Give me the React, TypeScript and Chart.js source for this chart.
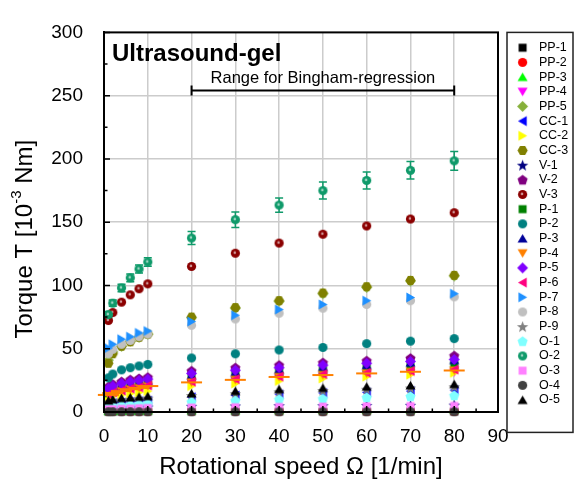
import React, { useEffect, useRef } from 'react';
import { Chart, registerables } from 'chart.js';

Chart.register(...registerables);

const FONT = "Arial, 'Liberation Sans', Helvetica, sans-serif";

// ---------- data ----------
const speeds = [1, 2, 4, 6, 8, 10, 20, 30, 40, 50, 60, 70, 80];

const pp1 = [0.3, 0.3, 0.3, 0.3, 0.3, 0.3, 0.3, 0.3, 0.3, 0.3, 0.3, 0.3, 0.3];
const pp2 = [0.5, 0.5, 0.5, 0.5, 0.5, 0.5, 0.5, 0.5, 0.5, 0.5, 0.5, 0.5, 0.5];
const pp3 = [1, 1, 1.2, 1.2, 1.3, 1.4, 1.5, 1.6, 1.7, 1.8, 1.9, 2, 2];
const pp4 = [12.5, 14, 15.5, 17, 18, 19.5, 22.5, 24.5, 26.5, 28, 29.5, 30.5, 31.5];
const pp5 = [41, 47.5, 52, 56, 59, 61.5, 74.5, 82, 87.5, 93.5, 98.5, 103.5, 107.5];
const cc1 = [6, 7, 7.5, 8, 8.5, 9, 11.7, 13, 14, 15, 15.5, 16.5, 17.3];
const cc2 = [11.5, 12.5, 13.5, 14.5, 15.5, 16.5, 20.5, 22.5, 24.5, 26.5, 28, 29.5, 31];
const cc3 = [38.5, 46, 52, 55.5, 59, 61.5, 75, 82.5, 88, 94, 99, 104, 108];
const v1 = [2.5, 3, 3.5, 3.5, 4, 4, 4.5, 4.8, 5, 5, 5.2, 5.3, 5.5];
const v2 = [20, 22, 24, 25.5, 26.5, 27.5, 32.5, 35, 37, 39, 40.5, 42.5, 44.5];
const v3 = [72.3, 78.6, 86.8, 92.6, 97.4, 101.3, 115, 125.5, 133.5, 140.5, 147, 152.5, 157.5];
const p1 = [15, 17, 19, 20, 21, 22, 27, 29.5, 31.5, 33, 34.5, 36, 37.3];
const p2 = [27, 30, 33.3, 35, 36.4, 37.6, 42.7, 46, 49, 51, 54, 56, 58];
const p3 = [17, 19, 21, 22.5, 23.5, 24.5, 29, 31.5, 33.5, 35.5, 37, 39, 41];
const p4 = [13.5, 15, 16.5, 18, 19, 20.5, 23.4, 25.4, 27.7, 29.2, 30.5, 31.8, 32.8];
const p5 = [18.5, 20.5, 22.5, 24, 25, 26, 30.5, 33, 35, 37, 38.5, 40, 41.5];
const p6 = [14, 15.5, 17, 18.5, 19.5, 21, 24, 26, 28, 30, 31, 32.5, 33.5];
const p7 = [50.5, 53.5, 57.5, 59.5, 62.5, 64, 71.5, 76.5, 81, 85, 88, 90.5, 93.5];
const p8 = [46, 49.5, 53.5, 56.5, 59.5, 61.5, 68.5, 73.5, 78, 82, 85, 88, 91];
const p9 = [8, 9, 9.5, 10, 10.5, 11, 13, 14.5, 16, 17, 18, 19, 20];
const o1 = [4, 4.5, 5, 5.5, 6, 6.5, 8, 9, 10, 10.5, 11.5, 12.3, 13];
const o2 = [77, 86, 98, 106, 113, 118.5, 137.5, 152, 163.5, 175, 183, 191, 198.5];
const o3 = [2, 2.2, 2.5, 2.7, 3, 3.2, 3.5, 3.8, 4, 4.2, 4.4, 4.6, 4.8];
const o4 = [0.2, 0.2, 0.2, 0.2, 0.2, 0.2, 0.2, 0.2, 0.2, 0.2, 0.2, 0.2, 0.2];
const o5 = [9, 10, 11, 11.5, 12, 12.5, 14.7, 16.5, 18, 19, 20, 21, 22];

// error bars
const o2Err = [2.5, 2.5, 3, 3, 3.2, 3.4, 5.1, 6.1, 5.7, 6.7, 6.7, 6.9, 7.4];
const p4XErr = [2.4, 2.4, 2.4, 2.4, 2.4, 2.4, 2.4, 2.4, 2.4, 2.4, 2.4, 2.4, 2.4];

const xTickValues = [0, 10, 20, 30, 40, 50, 60, 70, 80, 90];
const yTickValues = [0, 50, 100, 150, 200, 250, 300];

const chartTitle = 'Ultrasound-gel';
const bracketLabel = 'Range for Bingham-regression';
const bracketRange = [20, 80];
const bracketLevel = 254;
const xTitle = 'Rotational speed Ω [1/min]';
const yTitleMain = 'Torque T [10';
const yTitleSup = '-3';
const yTitleEnd = ' Nm]';

// ---------- styles ----------
type Series = { name: string; values: number[]; color: string; shape: string; ball?: boolean; layer?: number };
const series: Series[] = [
  { name: 'PP-1', values: pp1, color: '#000000', shape: 'square' },
  { name: 'PP-2', values: pp2, color: '#ff0000', shape: 'circle' },
  { name: 'PP-3', values: pp3, color: '#00ff00', shape: 'up' },
  { name: 'PP-4', values: pp4, color: '#ff00ff', shape: 'down' },
  { name: 'PP-5', values: pp5, color: '#86b03a', shape: 'diamond' },
  { name: 'CC-1', values: cc1, color: '#0000ff', shape: 'left' },
  { name: 'CC-2', values: cc2, color: '#ffff00', shape: 'right' },
  { name: 'CC-3', values: cc3, color: '#808000', shape: 'hexagon' },
  { name: 'V-1', values: v1, color: '#000080', shape: 'star' },
  { name: 'V-2', values: v2, color: '#800080', shape: 'pentagon' },
  { name: 'V-3', values: v3, color: '#8b0000', shape: 'circle', ball: true },
  { name: 'P-1', values: p1, color: '#008000', shape: 'square' },
  { name: 'P-2', values: p2, color: '#008080', shape: 'circle' },
  { name: 'P-3', values: p3, color: '#000099', shape: 'up' },
  { name: 'P-4', values: p4, color: '#ff8000', shape: 'down' },
  { name: 'P-5', values: p5, color: '#8000ff', shape: 'diamond' },
  { name: 'P-6', values: p6, color: '#ff0080', shape: 'left' },
  { name: 'P-7', values: p7, color: '#1e90ff', shape: 'right', layer: 18.5 },
  { name: 'P-8', values: p8, color: '#c0c0c0', shape: 'circle' },
  { name: 'P-9', values: p9, color: '#808080', shape: 'star' },
  { name: 'O-1', values: o1, color: '#80ffff', shape: 'pentagon' },
  { name: 'O-2', values: o2, color: '#0f9a6a', shape: 'circle', ball: true },
  { name: 'O-3', values: o3, color: '#ff80ff', shape: 'square' },
  { name: 'O-4', values: o4, color: '#404040', shape: 'circle' },
  { name: 'O-5', values: o5, color: '#000000', shape: 'up' },
];

function makeMarker(shape: string, color: string, ball?: boolean): HTMLCanvasElement {
  const S = 13;
  const c = document.createElement('canvas');
  c.width = S;
  c.height = S;
  const g = c.getContext('2d') as CanvasRenderingContext2D;
  const m = S / 2;
  g.fillStyle = color;
  g.beginPath();
  const poly = (n: number, r: number, a0: number, cx: number, cy: number) => {
    for (let k = 0; k < n; k++) {
      const a = a0 + (k * 2 * Math.PI) / n;
      const px = cx + r * Math.cos(a);
      const py = cy + r * Math.sin(a);
      if (k === 0) g.moveTo(px, py);
      else g.lineTo(px, py);
    }
    g.closePath();
  };
  switch (shape) {
    case 'circle':
      g.arc(m, m, 4.6, 0, Math.PI * 2);
      break;
    case 'square':
      g.rect(m - 4, m - 4, 8, 8);
      break;
    case 'up':
      poly(3, 5.8, -Math.PI / 2, m, m + 1.2);
      break;
    case 'down':
      poly(3, 5.8, Math.PI / 2, m, m - 1.2);
      break;
    case 'left':
      poly(3, 5.8, Math.PI, m + 1.2, m);
      break;
    case 'right':
      poly(3, 5.8, 0, m - 1.2, m);
      break;
    case 'diamond':
      poly(4, 5.5, -Math.PI / 2, m, m);
      break;
    case 'pentagon':
      poly(5, 5.3, -Math.PI / 2, m, m + 0.4);
      break;
    case 'hexagon':
      poly(6, 5.1, 0, m, m);
      break;
    case 'star': {
      for (let k = 0; k < 10; k++) {
        const r = k % 2 === 0 ? 6 : 2.5;
        const a = -Math.PI / 2 + (k * Math.PI) / 5;
        const px = m + r * Math.cos(a);
        const py = m + 0.6 + r * Math.sin(a);
        if (k === 0) g.moveTo(px, py);
        else g.lineTo(px, py);
      }
      g.closePath();
      break;
    }
  }
  g.fill();
  if (ball) {
    g.fillStyle = 'rgba(255,255,255,0.6)';
    g.beginPath();
    g.arc(m - 0.6, m - 0.6, 1.3, 0, Math.PI * 2);
    g.fill();
  }
  return c;
}

export default function App() {
  const ref = useRef<HTMLCanvasElement>(null);

  useEffect(() => {
    const canvas = ref.current as HTMLCanvasElement;
    const markers = series.map((s) => makeMarker(s.shape, s.color, s.ball));
    const datasets = series.map((s, i) => ({
      label: s.name,
      data: speeds.map((x, j) => ({ x, y: s.values[j] })),
      pointStyle: markers[i] as any,
      pointRadius: 5,
      pointHoverRadius: 5,
      backgroundColor: s.color,
      borderColor: s.color,
      showLine: false,
      clip: false as any,
      order: -(s.layer ?? i), // later series drawn on top
    }));

    const o2Index = series.findIndex((s) => s.name === 'O-2');
    const p4Index = series.findIndex((s) => s.name === 'P-4');

    const decor = {
      id: 'decor',
      beforeDatasetsDraw(chart: any) {
        const { ctx } = chart;
        const xs = chart.scales.x;
        const ys = chart.scales.y;
        ctx.save();
        ctx.strokeStyle = series[o2Index].color;
        ctx.lineWidth = 1.5;
        speeds.forEach((sx, j) => {
          const px = xs.getPixelForValue(sx);
          const v = series[o2Index].values[j];
          const y1 = ys.getPixelForValue(v + o2Err[j]);
          const y2 = ys.getPixelForValue(v - o2Err[j]);
          ctx.beginPath();
          ctx.moveTo(px, y1);
          ctx.lineTo(px, y2);
          ctx.moveTo(px - 4, y1);
          ctx.lineTo(px + 4, y1);
          ctx.moveTo(px - 4, y2);
          ctx.lineTo(px + 4, y2);
          ctx.stroke();
        });
        ctx.restore();
      },
      afterDatasetsDraw(chart: any) {
        const { ctx } = chart;
        const xs = chart.scales.x;
        const ys = chart.scales.y;
        ctx.save();
        ctx.strokeStyle = series[p4Index].color;
        ctx.lineWidth = 2;
        speeds.forEach((sx, j) => {
          const py = ys.getPixelForValue(series[p4Index].values[j]);
          ctx.beginPath();
          ctx.moveTo(xs.getPixelForValue(sx - p4XErr[j]), py);
          ctx.lineTo(xs.getPixelForValue(sx + p4XErr[j]), py);
          ctx.stroke();
        });
        ctx.restore();
      },
      afterDraw(chart: any) {
        const { ctx, chartArea } = chart;
        const { left, right, top, bottom } = chartArea;
        const xs = chart.scales.x;
        const ys = chart.scales.y;
        ctx.save();
        // frame
        ctx.strokeStyle = '#000';
        ctx.lineWidth = 2;
        ctx.strokeRect(left, top, right - left, bottom - top);
        // inward ticks
        ctx.lineWidth = 1.5;
        ctx.beginPath();
        for (let v = 0; v <= 300; v += 25) {
          const py = ys.getPixelForValue(v);
          const len = v % 50 === 0 ? 6 : 3.5;
          ctx.moveTo(left, py);
          ctx.lineTo(left + len, py);
        }
        for (let v = 0; v <= 90; v += 5) {
          const px = xs.getPixelForValue(v);
          const len = v % 10 === 0 ? 6 : 3.5;
          ctx.moveTo(px, bottom);
          ctx.lineTo(px, bottom - len);
        }
        ctx.stroke();

        // title inside plot
        ctx.fillStyle = '#000';
        ctx.font = `bold 24px ${FONT}`;
        ctx.textAlign = 'left';
        ctx.textBaseline = 'middle';
        ctx.fillText(chartTitle, left + 8, top + 22);

        // bracket
        const bx1 = xs.getPixelForValue(bracketRange[0]);
        const bx2 = xs.getPixelForValue(bracketRange[1]);
        const by = ys.getPixelForValue(bracketLevel);
        ctx.lineWidth = 2;
        ctx.beginPath();
        ctx.moveTo(bx1, by);
        ctx.lineTo(bx2, by);
        ctx.moveTo(bx1, by - 5);
        ctx.lineTo(bx1, by + 5);
        ctx.moveTo(bx2, by - 5);
        ctx.lineTo(bx2, by + 5);
        ctx.stroke();
        ctx.font = `16.5px ${FONT}`;
        ctx.textAlign = 'center';
        ctx.fillText(bracketLabel, (bx1 + bx2) / 2, by - 12);

        // y axis title with superscript
        ctx.save();
        ctx.translate(25, (top + bottom) / 2 + 17);
        ctx.rotate(-Math.PI / 2);
        ctx.textAlign = 'left';
        ctx.textBaseline = 'middle';
        const mainFont = `24px ${FONT}`;
        const supFont = `15px ${FONT}`;
        ctx.font = mainFont;
        const w1 = ctx.measureText(yTitleMain).width;
        const w3 = ctx.measureText(yTitleEnd).width;
        ctx.font = supFont;
        const w2 = ctx.measureText(yTitleSup).width;
        let cx = -(w1 + w2 + w3) / 2;
        ctx.font = mainFont;
        ctx.fillText(yTitleMain, cx, 0);
        cx += w1;
        ctx.font = supFont;
        ctx.fillText(yTitleSup, cx, -8);
        cx += w2;
        ctx.font = mainFont;
        ctx.fillText(yTitleEnd, cx, 0);
        ctx.restore();

        // legend
        const lx = right + 9;
        const ly = top;
        const lw = 66;
        const lh = 400;
        ctx.strokeStyle = '#222';
        ctx.lineWidth = 1.5;
        ctx.strokeRect(lx, ly, lw, lh);
        ctx.font = `12.5px ${FONT}`;
        ctx.textAlign = 'left';
        ctx.textBaseline = 'middle';
        ctx.fillStyle = '#000';
        const rowH = 14.68;
        series.forEach((s, i) => {
          const cy = ly + 15.3 + i * rowH;
          const img = markers[i];
          ctx.drawImage(img, lx + 15.6 - img.width / 2, cy - img.height / 2);
          ctx.fillText(s.name, lx + 32, cy);
        });
        ctx.restore();
      },
    };

    const gridColor = (edgeLo: number, edgeHi: number) => (c: any) =>
      c.tick && (c.tick.value === edgeLo || c.tick.value === edgeHi) ? 'rgba(0,0,0,0)' : '#cccccc';

    const chart = new Chart(canvas, {
      type: 'scatter',
      data: { datasets: datasets as any },
      options: {
        animation: false,
        responsive: true,
        maintainAspectRatio: false,
        layout: { padding: { top: 18, right: 77, left: 0, bottom: 0 } },
        plugins: {
          legend: { display: false },
          tooltip: { enabled: false },
        },
        scales: {
          x: {
            type: 'linear',
            min: xTickValues[0],
            max: xTickValues[xTickValues.length - 1],
            afterFit: (s: any) => {
              s.height = 71;
            },
            afterBuildTicks: (s: any) => {
              s.ticks = xTickValues.map((v) => ({ value: v }));
            },
            ticks: {
              font: { size: 19, family: FONT },
              color: '#000',
              padding: 13,
              maxRotation: 0,
              autoSkip: false,
            },
            grid: { color: gridColor(0, 90), lineWidth: 1.5, drawTicks: false },
            border: { display: true, color: '#000', width: 2 },
            title: {
              display: true,
              text: xTitle,
              font: { size: 24, family: FONT },
              color: '#000',
              padding: { top: 0, bottom: 1 },
            },
          },
          y: {
            type: 'linear',
            min: yTickValues[0],
            max: yTickValues[yTickValues.length - 1],
            afterFit: (s: any) => {
              s.width = 104;
            },
            afterBuildTicks: (s: any) => {
              s.ticks = yTickValues.map((v) => ({ value: v }));
            },
            ticks: {
              font: { size: 19, family: FONT },
              color: '#000',
              padding: 21,
              autoSkip: false,
            },
            grid: { color: gridColor(0, 300), lineWidth: 1.5, drawTicks: false },
            border: { display: true, color: '#000', width: 2 },
          },
        },
      } as any,
      plugins: [decor],
    });
    return () => chart.destroy();
  }, []);

  return (
    <div style={{ position: 'absolute', left: 0, top: 0, width: 575, height: 483, background: '#fff' }}>
      <canvas ref={ref} />
    </div>
  );
}
